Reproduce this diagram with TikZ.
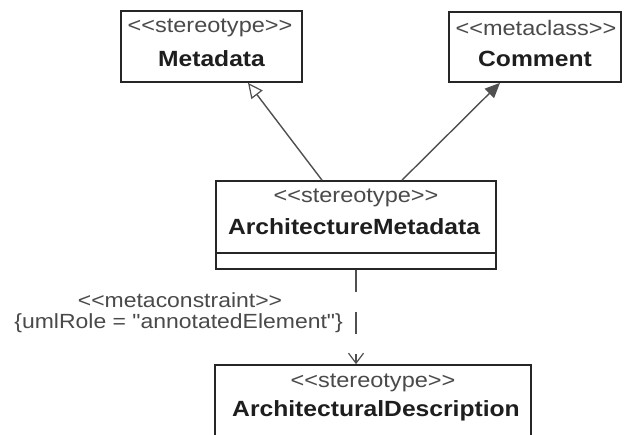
\documentclass[tikz,border=0pt]{standalone}
\usepackage{fontspec}
\setmainfont{Liberation Sans}[FakeStretch=1.12, Ligatures=TeXOff]
\usetikzlibrary{arrows.meta}
\definecolor{linegray}{HTML}{505050}
\definecolor{stereogray}{HTML}{4A4A4A}
\definecolor{namegray}{HTML}{1E1E1E}
\tikzset{
  umlbox/.style={draw=black!85, line width=1.7pt, rectangle, inner sep=0pt, fill=white},
  stereo/.style={inner sep=0pt, text=stereogray, font=\fontsize{21}{24}\selectfont},
  cname/.style={inner sep=0pt, text=namegray, font=\fontsize{22}{24}\selectfont\bfseries},
  lbl/.style={inner sep=0pt, text=stereogray, font=\fontsize{20.5}{24}\selectfont},
  conn/.style={draw=linegray, line width=1.4pt},
  genarrow/.style={conn, -{Triangle[open, length=15pt, width=14pt, line width=1.2pt]}},
  filledarrow/.style={conn, -{Triangle[length=15pt, width=13pt]}},
  deparrow/.style={conn, dash pattern=on 22pt off 20pt, -{Straight Barb[length=10pt, width=15pt, line width=1.2pt]}},
}
\begin{document}
\begin{tikzpicture}[x=1pt, y=-1pt]
\useasboundingbox (0,0) rectangle (628,434);
\clip (0,0) rectangle (628,434);
\fill[white] (0,0) rectangle (628,434);

% Metadata
\node[umlbox, minimum width=181pt, minimum height=71pt] (meta) at (211.5,46.5) {};
\node[stereo] (metaS) at (210,28) {<<stereotype>>};
\node[cname] (metaN) at (211.5,59) {Metadata};

% Comment
\node[umlbox, minimum width=172pt, minimum height=70pt] (comm) at (535,47) {};
\node[stereo] (commS) at (536,28) {<<metaclass>>};
\node[cname] (commN) at (535,59) {Comment};

% ArchitectureMetadata
\node[umlbox, minimum width=280pt, minimum height=88pt] (am) at (356,225) {};
\draw[black!85, line width=1.7pt] (am.west |- 0,253) coordinate (amsepL) -- (am.east |- 0,253) coordinate (amsepR);
\node[stereo] (amS) at (356,198) {<<stereotype>>};
\node[cname] (amN) at (354,227) {ArchitectureMetadata};

% ArchitecturalDescription
\node[umlbox, minimum width=316pt, minimum height=120pt] (ad) at (373,425) {};
\node[stereo] (adS) at (373,383) {<<stereotype>>};
\node[cname] (adN) at (376,411) {ArchitecturalDescription};

% connectors
\draw[genarrow] ([xshift=-34pt]am.north) -- ([xshift=36.5pt]meta.south);
\draw[filledarrow] ([xshift=46pt]am.north) -- ([xshift=-35pt]comm.south);
\draw[deparrow] (am.south) -- (am.south |- ad.north);

% labels
\node[lbl] (mc) at (180,300) {<<metaconstraint>>};
\node[lbl, anchor=east] (role) at (343,323) {\{umlRole = "annotatedElement"\}};
\end{tikzpicture}
\end{document}
